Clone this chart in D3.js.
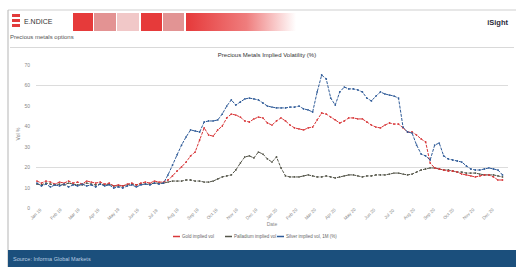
<!DOCTYPE html>
<meta charset="utf-8">
<html>
<head>
<script src="https://cdnjs.cloudflare.com/ajax/libs/d3/7.8.5/d3.min.js"></script>
<style>
  body { margin: 0; background: #fff; }
</style>
</head>
<body>
<div id="chart"></div>
<script>

// weekly observations, first one in early January 2019
var firstWeek = new Date(2019, 0, 4);
var monthStart = new Date(2019, 0, 1);
var monthEnd = new Date(2021, 0, 1);

var seriesNames = ["Gold implied vol", "Palladium implied vol", "Silver implied vol, 1M (%)"];
var seriesColors = ["#d8383a", "#55564a", "#2f5b98"];

var goldVol = [13.2,12.2,13.2,12.7,11.7,12.7,12.2,13.2,12.2,12.7,11.7,13.2,12.7,12.2,12.7,11.7,12.2,10.8,11.3,10.8,11.7,12.2,11.3,12.2,12.7,12.2,13.2,12.7,12.7,
  13.7,15.7,18.1,20.1,22.5,25.5,27.4,33.3,39.2,35.7,35.2,38.2,40.1,44.1,46.0,45.5,44.5,42.6,42.1,43.6,44.5,44.1,41.6,40.6,42.6,44.1,42.6,40.6,39.2,38.7,
  38.2,39.2,39.6,43.1,46.5,46.0,44.5,43.1,41.6,42.6,44.1,44.1,43.6,43.6,42.1,40.6,39.6,39.2,40.6,41.6,41.1,41.1,39.2,37.2,37.2,35.7,33.8,32.3,22.0,19.6,
  19.1,18.6,18.1,18.1,17.6,16.6,16.2,15.7,15.2,15.7,16.2,16.2,15.2,13.7,13.7];

var palladiumVol = [11.7,11.3,12.2,11.7,11.3,11.7,11.3,12.2,11.7,11.3,11.3,12.2,11.7,11.3,11.7,11.3,11.7,10.8,10.8,10.8,11.3,11.7,11.3,11.7,11.7,11.7,12.2,12.2,12.2,
  12.7,13.2,13.2,13.2,13.7,13.7,13.2,13.2,12.7,12.7,13.2,14.2,15.2,15.7,16.2,18.6,22.0,25.0,25.5,24.5,27.4,26.4,24.0,22.5,25.0,19.6,15.7,15.2,15.2,15.2,
  15.7,16.2,15.7,15.2,15.2,15.7,15.2,14.7,15.2,15.7,16.2,16.2,15.7,15.2,15.7,15.7,16.2,16.2,16.2,16.6,17.1,17.1,16.6,16.2,16.6,17.6,18.6,19.1,19.6,19.6,
  19.1,18.6,18.6,18.1,17.6,17.6,17.1,17.1,17.1,16.6,16.2,16.2,16.2,15.7,15.2];

var silverVol = [12.2,10.8,11.7,10.3,11.3,10.8,11.7,10.3,11.3,10.8,11.7,10.8,11.3,10.3,11.7,10.8,11.3,9.8,10.3,9.8,10.8,11.3,10.3,11.3,11.7,11.3,12.2,11.7,12.2,
  16.2,21.0,26.0,30.8,34.8,38.2,37.7,37.2,42.1,42.6,42.6,43.1,46.0,49.9,52.9,50.4,51.9,53.4,53.8,53.4,52.9,51.4,49.9,49.4,49.0,49.0,49.0,49.4,49.4,49.9,
  48.5,48.0,47.0,56.8,65.1,63.2,53.8,50.4,56.8,59.2,58.3,58.3,57.8,56.8,53.8,52.4,54.8,56.8,55.8,55.3,54.8,53.8,39.6,37.2,36.7,30.8,26.4,25.5,23.5,30.8,
  31.8,25.5,24.0,23.5,23.0,22.5,20.6,19.1,18.6,18.6,19.1,19.6,19.1,18.6,16.2];

var yTicks = [0, 10, 20, 30, 40, 50, 60, 70];
var yGrid = [20, 60];

var width = 525, height = 271;

var svg = d3.select("#chart").append("svg")
  .attr("width", width)
  .attr("height", height)
  .style("font-family", "Liberation Sans, Arial, sans-serif");

svg.append("rect").attr("width", width).attr("height", height).attr("fill", "#fff");

// page frame
svg.append("line").attr("x1", 8).attr("x2", 516).attr("y1", 10).attr("y2", 10)
  .attr("stroke", "#cfcfcf");
svg.append("line").attr("x1", 8).attr("x2", 8).attr("y1", 10).attr("y2", 267)
  .attr("stroke", "#b5b5b5");
svg.append("line").attr("x1", 10).attr("x2", 514).attr("y1", 47.5).attr("y2", 47.5)
  .attr("stroke", "#d9d9d9");

// header : logo, coloured blocks, brand
var logo = svg.append("g").attr("transform", "translate(12,14)");
[0, 5, 10].forEach(function(dy) {
  logo.append("rect").attr("x", 0).attr("y", dy).attr("width", 8).attr("height", 3).attr("fill", "#e23b3b");
});
logo.append("text").attr("x", 12).attr("y", 10).attr("font-size", 7).attr("fill", "#333")
  .text("E.NDICE");

var blocks = [[73, 20, "#e63a3a"], [94, 22, "#e39393"], [117, 22, "#f1c8c8"], [141, 21, "#e63a3a"], [163, 21, "#e29494"]];
blocks.forEach(function(b) {
  svg.append("rect").attr("x", b[0]).attr("y", 13).attr("width", b[1]).attr("height", 18).attr("fill", b[2]);
});
var grad = svg.append("defs").append("linearGradient").attr("id", "fade");
grad.append("stop").attr("offset", "0%").attr("stop-color", "#e6393a");
grad.append("stop").attr("offset", "55%").attr("stop-color", "#ef7d7d");
grad.append("stop").attr("offset", "100%").attr("stop-color", "#fff");
svg.append("rect").attr("x", 186).attr("y", 13).attr("width", 110).attr("height", 18).attr("fill", "url(#fade)");

svg.append("text").attr("x", 508).attr("y", 25).attr("text-anchor", "end")
  .attr("font-size", 7.5).attr("font-weight", "bold").attr("fill", "#2a2a3a").text("iSight");

svg.append("text").attr("x", 10).attr("y", 39).attr("font-size", 6).attr("fill", "#555")
  .text("Precious metals options");

// chart title
svg.append("text").attr("x", 267).attr("y", 57).attr("text-anchor", "middle")
  .attr("font-size", 6).attr("fill", "#333")
  .text("Precious Metals Implied Volatility (%)");

// scales
var x = d3.scaleTime().domain([monthStart, monthEnd]).range([35, 507]);
var y = d3.scaleLinear().domain([0, 70]).range([208, 65]);

var dates = goldVol.map(function(d, i) { return d3.timeWeek.offset(firstWeek, i); });

// grid
svg.append("g").selectAll("line").data(yGrid).enter().append("line")
  .attr("x1", 36).attr("x2", 508)
  .attr("y1", function(d) { return Math.round(y(d)) + 0.5; })
  .attr("y2", function(d) { return Math.round(y(d)) + 0.5; })
  .attr("stroke", "#dcdcdc");

// y labels
svg.append("g").selectAll("text").data(yTicks).enter().append("text")
  .attr("x", 30).attr("y", function(d) { return y(d) + 2; })
  .attr("text-anchor", "end").attr("font-size", 5).attr("fill", "#888")
  .text(function(d) { return d; });

svg.append("text").attr("transform", "translate(20,134) rotate(-90)")
  .attr("text-anchor", "middle").attr("font-size", 5).attr("fill", "#777").text("Vol %");

// x labels
var months = d3.timeMonth.range(monthStart, monthEnd);
var fmt = d3.timeFormat("%b %y");
svg.append("g").selectAll("text").data(months).enter().append("text")
  .attr("transform", function(d) { return "translate(" + (x(d) + 2) + ",215) rotate(-45)"; })
  .attr("text-anchor", "middle").attr("font-size", 4.5).attr("fill", "#888")
  .text(function(d) { return fmt(d); });

svg.append("text").attr("x", 272).attr("y", 226).attr("text-anchor", "middle")
  .attr("font-size", 5).attr("fill", "#888").text("Date");

// series
var allSeries = [goldVol, palladiumVol, silverVol];
var line = d3.line()
  .x(function(d, i) { return x(dates[i]); })
  .y(function(d) { return y(d); });

// draw palladium first, then gold, silver on top
[1, 0, 2].forEach(function(k) {
  var g = svg.append("g");
  g.append("path").datum(allSeries[k])
    .attr("d", line)
    .attr("fill", "none")
    .attr("stroke", seriesColors[k])
    .attr("stroke-width", 1)
    .attr("stroke-dasharray", "3,1.2");
  g.selectAll("circle").data(allSeries[k]).enter().append("circle")
    .attr("cx", function(d, i) { return x(dates[i]); })
    .attr("cy", function(d) { return y(d); })
    .attr("r", 0.9)
    .attr("fill", seriesColors[k]);
});

// legend
var legendX = [173, 225, 277];
var legend = svg.append("g");
seriesNames.forEach(function(name, k) {
  legend.append("line").attr("x1", legendX[k]).attr("x2", legendX[k] + 7)
    .attr("y1", 236.5).attr("y2", 236.5).attr("stroke", seriesColors[k]).attr("stroke-width", 1.5);
  legend.append("text").attr("x", legendX[k] + 9).attr("y", 238)
    .attr("font-size", 4.5).attr("fill", "#666").text(name);
});

// footer band
svg.append("rect").attr("x", 8).attr("y", 250).attr("width", 508).attr("height", 17).attr("fill", "#1b4f7c");
svg.append("text").attr("x", 13).attr("y", 260.5).attr("font-size", 5.5).attr("fill", "#b9cde0")
  .text("Source: Informa Global Markets");

</script>
</body>
</html>
